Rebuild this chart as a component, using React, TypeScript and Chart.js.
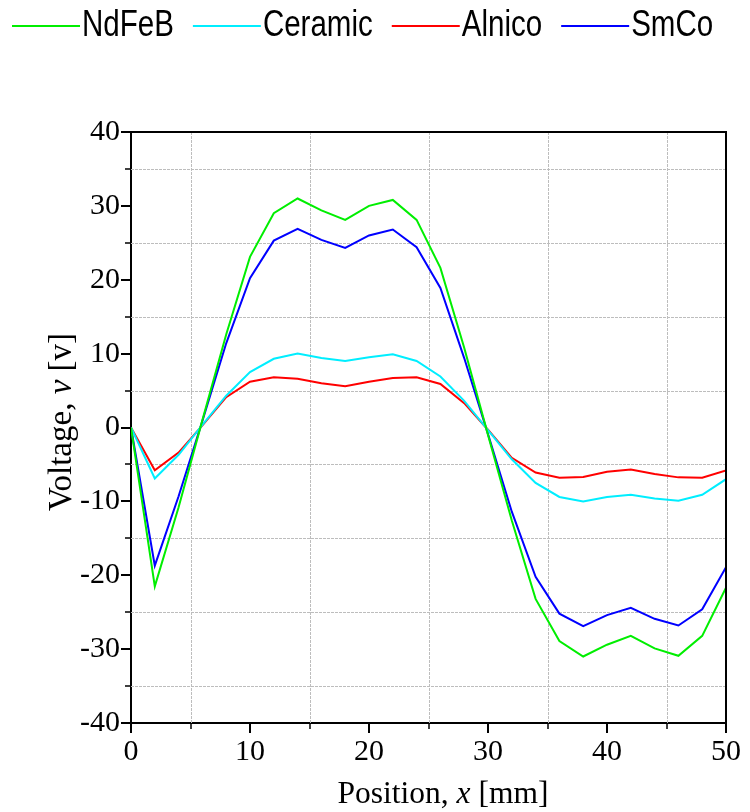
import React, { useEffect, useRef } from 'react';
import { Chart, registerables } from 'chart.js';

Chart.register(...registerables);

// ---- data ----
const positions = [0, 2, 4, 6, 8, 10, 12, 14, 16, 18, 20, 22, 24, 26, 28, 30, 32, 34, 36, 38, 40, 42, 44, 46, 48, 50, 50];
const ndfebValues = [0, -21.5, -10.8, 1.0, 12.6, 23.1, 29.0, 31.0, 29.4, 28.1, 30.0, 30.8, 28.1, 21.6, 10.8, -1.0, -12.6, -23.2, -28.9, -31.0, -29.4, -28.2, -29.9, -30.9, -28.2, -21.7, 0];
const ceramicValues = [0, -6.9, -3.7, 0.35, 4.3, 7.5, 9.3, 10.0, 9.4, 9.0, 9.5, 9.9, 9.0, 6.9, 3.6, -0.35, -4.3, -7.5, -9.4, -10.0, -9.4, -9.1, -9.6, -9.9, -9.1, -7.0, 0];
const alnicoValues = [0, -5.8, -3.4, 0.3, 4.1, 6.2, 6.8, 6.6, 6.0, 5.6, 6.2, 6.7, 6.8, 5.9, 3.3, -0.3, -4.1, -6.1, -6.8, -6.7, -6.0, -5.7, -6.3, -6.75, -6.8, -5.8, 0];
const smcoValues = [0, -18.7, -9.3, 0.9, 11.4, 20.2, 25.3, 26.9, 25.4, 24.3, 26.0, 26.8, 24.4, 18.9, 9.4, -0.9, -11.4, -20.2, -25.2, -26.9, -25.4, -24.4, -25.9, -26.8, -24.6, -18.9, 0];
const seriesNames = ['NdFeB', 'Ceramic', 'Alnico', 'SmCo'];
const seriesColors = ['#00ee00', '#00eeff', '#ff0000', '#0000ff'];
const xTitleParts = [
  { text: 'Position, ', italic: false },
  { text: 'x', italic: true },
  { text: ' [mm]', italic: false },
];
const yTitleParts = [
  { text: 'Voltage, ', italic: false },
  { text: 'v', italic: true },
  { text: ' [v]', italic: false },
];

const SERIF = '"Liberation Serif", "Times New Roman", Times, serif';
const SANS = '"Liberation Sans", Arial, sans-serif';
const GRID = '#bdbdbd';

function drawMixed(ctx: CanvasRenderingContext2D, parts: { text: string; italic: boolean }[], size: number) {
  let total = 0;
  const widths: number[] = [];
  for (const p of parts) {
    ctx.font = `${p.italic ? 'italic ' : ''}${size}px ${SERIF}`;
    const w = ctx.measureText(p.text).width;
    widths.push(w);
    total += w;
  }
  let x = -total / 2;
  parts.forEach((p, i) => {
    ctx.font = `${p.italic ? 'italic ' : ''}${size}px ${SERIF}`;
    ctx.fillText(p.text, x, 0);
    x += widths[i];
  });
}

const isMajor = (v: number) => Math.abs(v % 10) < 1e-9;

const decorPlugin = {
  id: 'decor',
  beforeDatasetsDraw(chart: any) {
    const { ctx, chartArea } = chart;
    const xs = chart.scales.x;
    const ys = chart.scales.y;
    ctx.save();
    ctx.strokeStyle = GRID;
    ctx.lineWidth = 1;
    ctx.setLineDash([3, 1]);
    ctx.beginPath();
    xs.ticks.forEach((t: any) => {
      if (!isMajor(t.value)) {
        const px = Math.round(xs.getPixelForValue(t.value)) + 0.5;
        ctx.moveTo(px, chartArea.top);
        ctx.lineTo(px, chartArea.bottom);
      }
    });
    ys.ticks.forEach((t: any) => {
      if (!isMajor(t.value)) {
        const py = Math.round(ys.getPixelForValue(t.value)) + 0.5;
        ctx.moveTo(chartArea.left, py);
        ctx.lineTo(chartArea.right, py);
      }
    });
    ctx.stroke();
    ctx.restore();
  },
  afterDatasetsDraw(chart: any) {
    const { ctx, chartArea } = chart;
    ctx.save();
    ctx.strokeStyle = '#000';
    ctx.lineWidth = 2;
    ctx.beginPath();
    ctx.moveTo(chartArea.left, chartArea.top);
    ctx.lineTo(chartArea.right, chartArea.top);
    ctx.lineTo(chartArea.right, chartArea.bottom);
    ctx.stroke();
    ctx.restore();
  },
  afterDraw(chart: any) {
    const { ctx, chartArea } = chart;
    const xs = chart.scales.x;
    const ys = chart.scales.y;
    ctx.save();
    ctx.strokeStyle = '#000';
    // tick marks
    xs.ticks.forEach((t: any) => {
      const major = isMajor(t.value);
      const px = Math.round(xs.getPixelForValue(t.value));
      ctx.lineWidth = major ? 2 : 1.5;
      ctx.beginPath();
      ctx.moveTo(px, chartArea.bottom);
      ctx.lineTo(px, chartArea.bottom + (major ? 10 : 6));
      ctx.stroke();
    });
    ys.ticks.forEach((t: any) => {
      const major = isMajor(t.value);
      const py = Math.round(ys.getPixelForValue(t.value));
      ctx.lineWidth = major ? 2 : 1.5;
      ctx.beginPath();
      ctx.moveTo(chartArea.left, py);
      ctx.lineTo(chartArea.left - (major ? 10 : 6), py);
      ctx.stroke();
    });

    // axis titles
    ctx.fillStyle = '#000';
    ctx.textBaseline = 'alphabetic';
    ctx.textAlign = 'left';
    ctx.save();
    ctx.translate(443, 803);
    drawMixed(ctx, xTitleParts, 31.5);
    ctx.restore();
    ctx.save();
    ctx.translate(71, 422);
    ctx.rotate(-Math.PI / 2);
    drawMixed(ctx, yTitleParts, 33);
    ctx.restore();

    // legend (narrow sans text)
    const squeeze = 0.82;
    ctx.font = `36px ${SANS}`;
    let x = 12;
    chart.data.datasets.forEach((ds: any) => {
      ctx.strokeStyle = ds.borderColor;
      ctx.lineWidth = 2;
      ctx.beginPath();
      ctx.moveTo(x, 26);
      ctx.lineTo(x + 68, 26);
      ctx.stroke();
      ctx.fillStyle = '#000';
      ctx.save();
      ctx.translate(x + 70, 36);
      ctx.scale(squeeze, 1);
      ctx.fillText(ds.label, 0, 0);
      ctx.restore();
      x += 70 + ctx.measureText(ds.label).width * squeeze + 19;
    });
    ctx.restore();
  },
};

export default function App() {
  const ref = useRef<HTMLCanvasElement | null>(null);
  useEffect(() => {
    if (!ref.current) return;
    const allValues = [ndfebValues, ceramicValues, alnicoValues, smcoValues];
    const datasets = seriesNames.map((name, i) => ({
      label: name,
      data: positions.map((x, j) => ({ x, y: allValues[i][j] })),
      borderColor: seriesColors[i],
      backgroundColor: seriesColors[i],
      borderWidth: 2,
      pointRadius: 0,
      tension: 0,
      fill: false,
    }));
    const majorOnly = (v: any) => (isMajor(Number(v)) ? String(v) : '');
    const chart = new Chart(ref.current, {
      type: 'line',
      data: { datasets },
      plugins: [decorPlugin],
      options: {
        animation: false,
        responsive: false,
        layout: { padding: { top: 132, right: 24, left: 0, bottom: 0 } },
        plugins: { legend: { display: false }, title: { display: false }, tooltip: { enabled: false } },
        scales: {
          x: {
            type: 'linear',
            min: 0,
            max: 50,
            ticks: {
              stepSize: 5,
              autoSkip: false,
              maxRotation: 0,
              padding: 4,
              color: '#000',
              font: { family: SERIF, size: 30, lineHeight: 1 },
              callback: majorOnly,
            },
            grid: {
              display: true,
              drawOnChartArea: false,
              color: 'rgba(0,0,0,0)',
              tickLength: 10,
              tickColor: 'rgba(0,0,0,0)',
            },
            border: { display: true, color: '#000', width: 2 },
            afterFit: (s: any) => {
              s.height = 89;
              s.paddingLeft = 0;
              s.paddingRight = 0;
            },
          },
          y: {
            type: 'linear',
            min: -40,
            max: 40,
            ticks: {
              stepSize: 5,
              autoSkip: false,
              padding: 1,
              color: '#000',
              font: { family: SERIF, size: 30, lineHeight: 1 },
              callback: majorOnly,
            },
            grid: {
              display: true,
              drawOnChartArea: false,
              color: 'rgba(0,0,0,0)',
              tickLength: 10,
              tickColor: 'rgba(0,0,0,0)',
            },
            border: { display: true, color: '#000', width: 2 },
            afterFit: (s: any) => {
              s.width = 131;
              s.paddingTop = 0;
              s.paddingBottom = 0;
            },
          },
        },
      },
    } as any);
    return () => chart.destroy();
  }, []);
  return (
    <div style={{ position: 'absolute', left: 0, top: 0, width: 750, height: 812, background: '#fff' }}>
      <canvas ref={ref} width={750} height={812} style={{ display: 'block', width: 750, height: 812 }} />
    </div>
  );
}
